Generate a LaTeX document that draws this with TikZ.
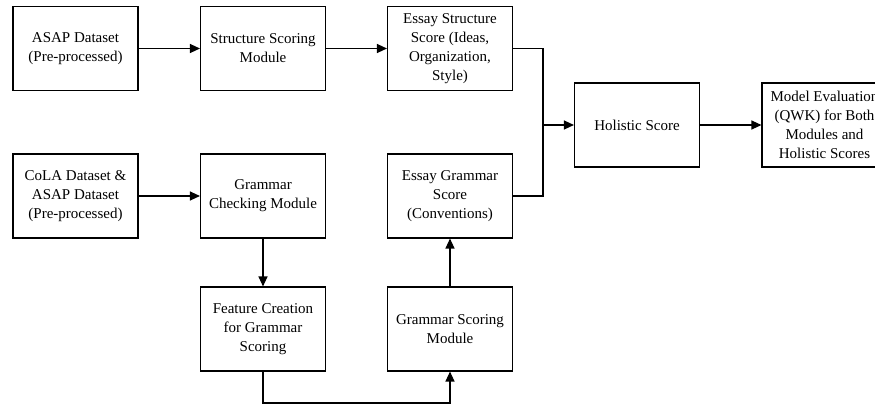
\documentclass[tikz,border=0pt]{standalone}
\usepackage{fontspec}
\setmainfont{Liberation Serif}
\usetikzlibrary{arrows.meta}
\begin{document}
\begin{tikzpicture}[x=1pt,y=-1pt,
 box/.style={draw, line width=1.1pt, minimum width=125pt, minimum height=84pt, align=center, font=\fontsize{15}{19}\selectfont, inner sep=0pt},
 conn/.style={line width=1.2pt, -{Triangle[length=10pt,width=9pt]}},
 wire/.style={line width=1.2pt}]
\useasboundingbox (0,0) rectangle (875,407);
\clip (0,0) rectangle (875,407);
\node[box] (asap) at (75.5,48.5) {ASAP Dataset\\(Pre-processed)};
\node[box] (struct) at (263,48.5) {Structure Scoring\\Module};
\node[box] (ess) at (450,48.5) {Essay Structure\\Score (Ideas,\\Organization,\\Style)};
\node[box] (hol) at (637,125) {Holistic Score};
\node[box] (model) at (824.5,125) {Model Evaluation\\(QWK) for Both\\Modules and\\Holistic Scores};
\node[box] (cola) at (75.5,196) {CoLA Dataset \&\\ASAP Dataset\\(Pre-processed)};
\node[box] (gc) at (263,196) {Grammar\\Checking Module};
\node[box] (eg) at (450,196) {Essay Grammar\\Score\\(Conventions)};
\node[box] (fc) at (263,329) {Feature Creation\\for Grammar\\Scoring};
\node[box] (gs) at (450,329) {Grammar Scoring\\Module};
\coordinate (j) at (543,125);
\coordinate (b) at (263,403);
\draw[conn] (asap) -- (struct);
\draw[conn] (struct) -- (ess);
\draw[wire] (ess.east) -| (j);
\draw[wire] (eg.east) -| (j);
\draw[conn] (j) -- (hol);
\draw[conn] (hol) -- (model);
\draw[conn] (cola) -- (gc);
\draw[conn] (gc) -- (fc);
\draw[conn] (gs) -- (eg);
\draw[conn] (fc.south) -- (b) -| (gs.south);
\end{tikzpicture}
\end{document}
